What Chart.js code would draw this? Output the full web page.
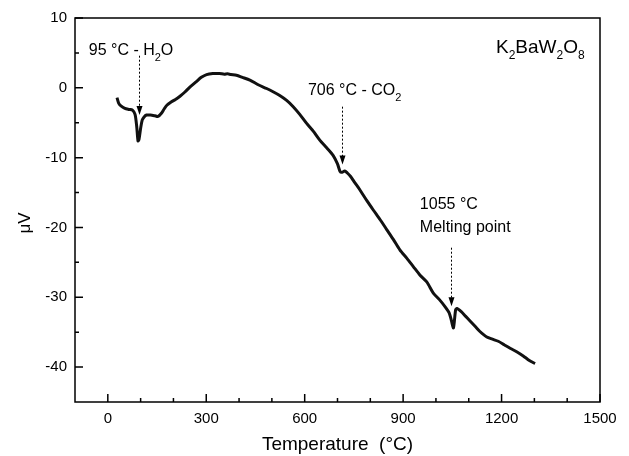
<!DOCTYPE html>
<html>
<head>
<meta charset="utf-8">
<script src="https://cdn.jsdelivr.net/npm/chart.js@4.4.1/dist/chart.umd.min.js"></script>
<style>
  html, body { margin: 0; padding: 0; background: #fff; }
  #wrap { width: 629px; height: 456px; position: relative; }
</style>
</head>
<body>
<div id="wrap"><canvas id="dtaChart"></canvas></div>
<script>
// DTA curve of K2BaW2O8
const temperature = [28, 33, 40, 52, 65, 75, 83, 88, 92, 95, 100, 105, 110, 118, 130, 143, 153, 164, 172, 180,
  194, 205, 220, 235, 250, 270, 285, 301, 320, 340, 355, 365, 375, 392, 410, 433, 460, 484, 505, 524,
  545, 565, 585, 606, 626, 646, 667, 687, 700, 708, 714, 722, 730, 740, 750, 768, 790, 809, 830, 850,
  870, 890, 911, 931, 951, 972, 992, 1010, 1027, 1040, 1047, 1053, 1056, 1060, 1064, 1078, 1090, 1104, 1120, 1134,
  1155, 1172, 1190, 1208, 1226, 1246, 1266, 1280, 1290, 1302];
const signal = [-1.4, -2.2, -2.6, -2.95, -3.1, -3.2, -3.8, -5.5, -7.6, -7.4, -5.8, -4.6, -4.2, -3.9, -3.9, -4.0, -4.1, -3.6, -3.0, -2.5,
  -2.0, -1.7, -1.2, -0.6, 0.1, 0.9, 1.5, 1.9, 2.05, 2.05, 1.95, 2.0, 1.9, 1.8, 1.5, 1.1, 0.4, -0.1, -0.6, -1.1,
  -1.8, -2.7, -3.8, -5.1, -6.2, -7.5, -8.6, -9.7, -10.9, -12.0, -12.1, -11.9, -12.2, -12.7, -13.4, -14.6, -16.2, -17.5, -18.9, -20.3,
  -21.7, -23.2, -24.4, -25.6, -26.8, -27.8, -29.4, -30.3, -31.3, -32.2, -33.3, -34.4, -33.5, -31.8, -31.6, -32.1, -32.7, -33.4, -34.2, -34.9,
  -35.7, -36.0, -36.3, -36.8, -37.3, -37.8, -38.4, -38.9, -39.2, -39.5];

const xMajorTicks = [0, 300, 600, 900, 1200, 1500];
const xMinorTicks = [100, 200, 400, 500, 700, 800, 1000, 1100, 1300, 1400];
const yMajorTicks = [-40, -30, -20, -10, 0, 10];
const yMinorTicks = [-35, -25, -15, -5, 5];

// annotated events: arrow x, arrow start y, arrow tip y
const eventTemp = [95, 715, 1045];
const arrowFrom = [4.6, -2.7, -22.9];
const arrowTo = [-3.9, -11.0, -31.3];

const FONT = '"Liberation Sans", Arial, sans-serif';

function richText(ctx, parts, x, y, size, subSize) {
    // parts: [text, isSub]
    let cx = x;
    parts.forEach(([txt, sub]) => {
        ctx.font = (sub ? subSize : size) + 'px ' + FONT;
        ctx.fillText(txt, cx, sub ? y + 6 : y);
        cx += ctx.measureText(txt).width;
    });
}

const framePlugin = {
    id: 'frame',
    afterDraw(chart) {
        const ctx = chart.ctx;
        const a = chart.chartArea;
        const xs = chart.scales.x, ys = chart.scales.y;
        ctx.save();
        ctx.strokeStyle = '#000';
        ctx.lineWidth = 1.5;
        ctx.strokeRect(a.left, a.top, a.right - a.left, a.bottom - a.top);

        // inward tick marks
        ctx.lineWidth = 1.5;
        ctx.beginPath();
        xMajorTicks.forEach(v => { const p = xs.getPixelForValue(v); ctx.moveTo(p, a.bottom); ctx.lineTo(p, a.bottom - 8); });
        xMinorTicks.forEach(v => { const p = xs.getPixelForValue(v); ctx.moveTo(p, a.bottom); ctx.lineTo(p, a.bottom - 4); });
        yMajorTicks.forEach(v => { const p = ys.getPixelForValue(v); ctx.moveTo(a.left, p); ctx.lineTo(a.left + 8, p); });
        yMinorTicks.forEach(v => { const p = ys.getPixelForValue(v); ctx.moveTo(a.left, p); ctx.lineTo(a.left + 4, p); });
        ctx.stroke();

        // dotted arrows
        ctx.fillStyle = '#000';
        eventTemp.forEach((t, i) => {
            const px = Math.round(xs.getPixelForValue(t)) + 0.5;
            const y0 = ys.getPixelForValue(arrowFrom[i]);
            const y1 = ys.getPixelForValue(arrowTo[i]);
            ctx.lineWidth = 1;
            ctx.setLineDash([2, 2]);
            ctx.beginPath();
            ctx.moveTo(px, y0);
            ctx.lineTo(px, y1 - 8);
            ctx.stroke();
            ctx.setLineDash([]);
            ctx.beginPath();
            ctx.moveTo(px - 3, y1 - 9);
            ctx.lineTo(px + 3, y1 - 9);
            ctx.lineTo(px, y1);
            ctx.closePath();
            ctx.fill();
        });

        // annotation texts
        ctx.textBaseline = 'alphabetic';
        ctx.textAlign = 'left';
        richText(ctx, [['95 °C - H', false], ['2', true], ['O', false]],
            xs.getPixelForValue(-58), ys.getPixelForValue(4.67), 16, 11);
        richText(ctx, [['706 °C - CO', false], ['2', true]],
            xs.getPixelForValue(610), ys.getPixelForValue(-1.05), 16, 11);
        richText(ctx, [['1055 °C', false]],
            xs.getPixelForValue(951), ys.getPixelForValue(-17.3), 16, 11);
        richText(ctx, [['Melting point', false]],
            xs.getPixelForValue(951), ys.getPixelForValue(-20.7), 16, 11);
        richText(ctx, [['K', false], ['2', true], ['BaW', false], ['2', true], ['O', false], ['8', true]],
            xs.getPixelForValue(1183), ys.getPixelForValue(5.0), 19, 12);

        // axis titles
        ctx.font = '19px ' + FONT;
        ctx.textAlign = 'center';
        ctx.fillText('Temperature  (°C)', (a.left + a.right) / 2, 450);
        ctx.translate(30, (a.top + a.bottom) / 2 + 13);
        ctx.rotate(-Math.PI / 2);
        ctx.font = '17px ' + FONT;
        ctx.fillText('μV', 0, 0);
        ctx.restore();
    }
};

const ctx = document.getElementById('dtaChart').getContext('2d');
const dtaChart = new Chart(ctx, {
    type: 'scatter',
    data: {
        datasets: [{
            label: 'K2BaW2O8',
            data: temperature.map((t, i) => ({ x: t, y: signal[i] })),
            showLine: true,
            borderColor: '#111',
            borderWidth: 3,
            pointRadius: 0,
            tension: 0.25,
            fill: false
        }]
    },
    options: {
        responsive: true,
        maintainAspectRatio: false,
        animation: false,
        layout: { padding: { left: 0, top: 18, right: 29, bottom: 0 } },
        plugins: {
            legend: { display: false },
            tooltip: { enabled: false }
        },
        scales: {
            x: {
                type: 'linear',
                min: -100,
                max: 1500,
                grid: { display: false, drawTicks: false },
                border: { display: false },
                afterBuildTicks: scale => { scale.ticks = xMajorTicks.map(v => ({ value: v })); },
                afterFit: scale => { scale.height = 54; },
                ticks: {
                    padding: 8,
                    color: '#000',
                    maxRotation: 0,
                    font: { family: FONT, size: 15 },
                    callback: value => String(value)
                }
            },
            y: {
                type: 'linear',
                min: -45,
                max: 10,
                grid: { display: false, drawTicks: false },
                border: { display: false },
                afterBuildTicks: scale => { scale.ticks = yMajorTicks.map(v => ({ value: v })); },
                afterFit: scale => { scale.width = 75; },
                ticks: {
                    padding: 8,
                    color: '#000',
                    font: { family: FONT, size: 15 },
                    callback: value => String(value)
                }
            }
        }
    },
    plugins: [framePlugin]
});
</script>
</body>
</html>
